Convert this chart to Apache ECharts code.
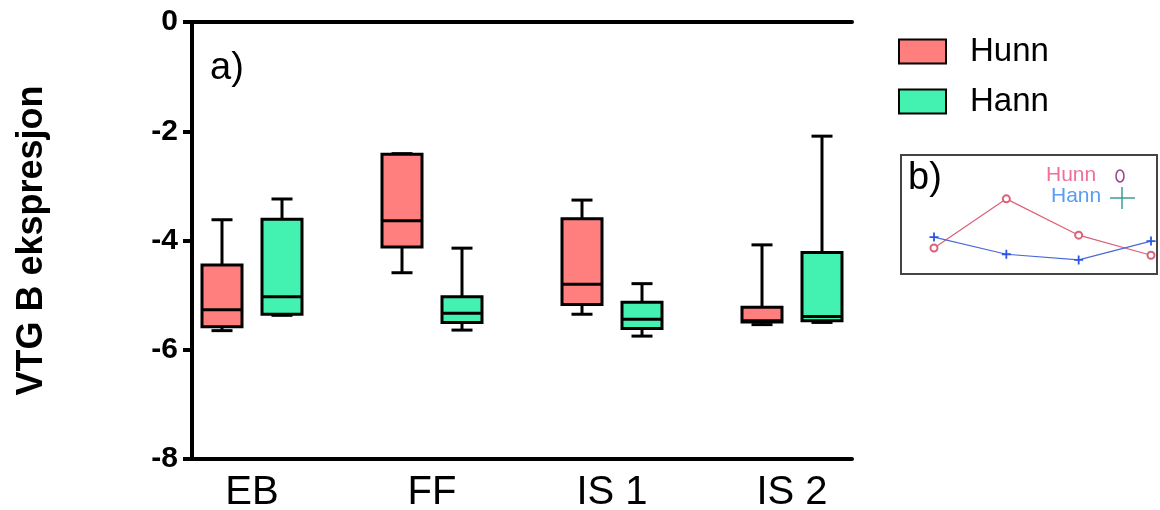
<!DOCTYPE html>
<html>
<head>
<meta charset="utf-8">
<script src="https://cdn.jsdelivr.net/npm/echarts@6/dist/echarts.min.js"></script>
<style>
  html, body { margin: 0; padding: 0; background: #fff; }
  #main { width: 1160px; height: 510px; }
</style>
</head>
<body>
<div id="main"></div>
<script>
// kategorier og boksdata: [min, Q1, median, Q3, maks]
var categories = ['EB', 'FF', 'IS 1', 'IS 2'];
var hunnBox = [
    [-5.65, -5.58, -5.27, -4.45, -3.62],
    [-4.59, -4.12, -3.64, -2.42, -2.41],
    [-5.35, -5.17, -4.80, -3.60, -3.26],
    [-5.54, -5.49, -5.47, -5.22, -4.08]
];
var hannBox = [
    [-5.37, -5.35, -5.03, -3.61, -3.24],
    [-5.64, -5.50, -5.33, -5.03, -4.14],
    [-5.75, -5.61, -5.44, -5.13, -4.79],
    [-5.50, -5.47, -5.39, -4.22, -2.09]
];
// innfelt b): gjennomsnitt per gruppe
var hunnTrend = [-4.97, -3.40, -4.56, -5.20];
var hannTrend = [-4.62, -5.17, -5.35, -4.75];

var FONT = 'Liberation Sans';

// hver gruppe tar 3 plasser på x-aksen: Hunn, Hann, mellomrom
function toRows(boxes, slot) {
    var rows = [];
    for (var i = 0; i < boxes.length; i++) {
        rows.push([i * 3 + slot].concat(boxes[i]));
    }
    return rows;
}

function renderBox(params, api) {
    var x = api.value(0);
    var lo = api.coord([x, api.value(1)]);
    var q1 = api.coord([x, api.value(2)]);
    var md = api.coord([x, api.value(3)]);
    var q3 = api.coord([x, api.value(4)]);
    var hi = api.coord([x, api.value(5)]);
    var unit = api.size([1, 0])[0];
    var half = unit / 3;
    var cap = unit * 0.175;
    var ln = { stroke: '#000', lineWidth: 3 };
    return {
        type: 'group',
        children: [
            { type: 'line', shape: { x1: hi[0], y1: hi[1], x2: q3[0], y2: q3[1] }, style: ln },
            { type: 'line', shape: { x1: lo[0], y1: lo[1], x2: q1[0], y2: q1[1] }, style: ln },
            { type: 'line', shape: { x1: hi[0] - cap, y1: hi[1], x2: hi[0] + cap, y2: hi[1] }, style: ln },
            { type: 'line', shape: { x1: lo[0] - cap, y1: lo[1], x2: lo[0] + cap, y2: lo[1] }, style: ln },
            {
                type: 'rect',
                shape: { x: q3[0] - half, y: q3[1], width: half * 2, height: q1[1] - q3[1] },
                style: { fill: api.visual('color'), stroke: '#000', lineWidth: 3 }
            },
            { type: 'line', shape: { x1: md[0] - half, y1: md[1], x2: md[0] + half, y2: md[1] }, style: ln }
        ]
    };
}

var chart = echarts.init(document.getElementById('main'));

var option = {
    backgroundColor: '#fff',
    animation: false,
    textStyle: { fontFamily: FONT },
    legend: {
        left: 893,
        top: 30,
        orient: 'vertical',
        itemWidth: 47,
        itemHeight: 24,
        itemGap: 17,
        data: [
            { name: 'Hunn', icon: 'rect', itemStyle: { borderColor: '#000', borderWidth: 2 } },
            { name: 'Hann', icon: 'rect', itemStyle: { borderColor: '#000', borderWidth: 2 } }
        ],
        textStyle: { fontSize: 33, color: '#000', fontFamily: FONT, padding: [0, 0, 0, 19] }
    },
    grid: [
        { left: 192, top: 22, width: 660, height: 437, outerBoundsMode: 'none', containLabel: false },
        { left: 934, top: 155, width: 217, height: 119, outerBoundsMode: 'none', containLabel: false }
    ],
    xAxis: [
        {
            type: 'value',
            gridIndex: 0,
            min: 0,
            max: 11,
            interval: 1,
            position: 'bottom',
            splitLine: { show: false },
            axisTick: { show: false },
            axisLine: { onZero: false, lineStyle: { color: '#000', width: 4 } },
            axisLabel: {
                fontSize: 40,
                color: '#000',
                margin: 14,
                showMinLabel: true,
                showMaxLabel: true,
                formatter: function(v) {
                    return (v - 1) % 3 === 0 ? categories[(v - 1) / 3] : '';
                }
            }
        },
        {
            type: 'value',
            gridIndex: 0,
            min: 0,
            max: 11,
            position: 'top',
            splitLine: { show: false },
            axisTick: { show: false },
            axisLabel: { show: false },
            axisLine: { onZero: false, lineStyle: { color: '#000', width: 4 } }
        },
        {
            type: 'category',
            gridIndex: 1,
            data: categories,
            boundaryGap: false,
            show: false
        }
    ],
    yAxis: [
        {
            type: 'value',
            gridIndex: 0,
            min: -8,
            max: 0,
            interval: 2,
            name: 'VTG B ekspresjon',
            nameLocation: 'middle',
            nameGap: 142,
            nameTextStyle: { fontSize: 36, fontWeight: 'bold', color: '#000', fontFamily: FONT },
            splitLine: { show: false },
            axisLine: { show: true, onZero: false, lineStyle: { color: '#000', width: 4 } },
            axisTick: { show: true, length: 9, lineStyle: { color: '#000', width: 4 } },
            axisLabel: { fontSize: 30, fontWeight: 'bold', color: '#000', margin: 14 }
        },
        {
            type: 'value',
            gridIndex: 1,
            min: -5.8,
            max: -2.0,
            show: false
        }
    ],
    series: [
        {
            name: 'Hunn',
            type: 'custom',
            xAxisIndex: 0,
            yAxisIndex: 0,
            itemStyle: { color: '#ff7f7f' },
            renderItem: renderBox,
            encode: { x: 0, y: [1, 2, 3, 4, 5] },
            data: toRows(hunnBox, 0.5)
        },
        {
            name: 'Hann',
            type: 'custom',
            xAxisIndex: 0,
            yAxisIndex: 0,
            itemStyle: { color: '#43f2b0' },
            renderItem: renderBox,
            encode: { x: 0, y: [1, 2, 3, 4, 5] },
            data: toRows(hannBox, 1.5)
        },
        {
            name: 'Hunn b',
            type: 'line',
            xAxisIndex: 2,
            yAxisIndex: 1,
            symbol: 'emptyCircle',
            symbolSize: 7,
            lineStyle: { color: '#dc6078', width: 1.2 },
            itemStyle: { color: '#dc6078', borderWidth: 1 },
            data: hunnTrend
        },
        {
            name: 'Hann b',
            type: 'line',
            xAxisIndex: 2,
            yAxisIndex: 1,
            symbol: 'path://M4,0 L6,0 L6,4 L10,4 L10,6 L6,6 L6,10 L4,10 L4,6 L0,6 L0,4 L4,4 Z',
            symbolSize: 9,
            lineStyle: { color: '#4a6ad8', width: 1.2 },
            itemStyle: { color: '#2a55e8' },
            data: hannTrend
        }
    ],
    graphic: [
        {
            type: 'text',
            left: 210,
            top: 50,
            style: { text: 'a)', fontSize: 38, fill: '#000', fontFamily: FONT }
        },
        {
            type: 'rect',
            shape: { x: 901, y: 155, width: 256, height: 119 },
            style: { fill: 'none', stroke: '#444', lineWidth: 2 },
            z: 10
        },
        {
            type: 'text',
            left: 908,
            top: 160,
            style: { text: 'b)', fontSize: 38, fill: '#000', fontFamily: FONT }
        },
        {
            type: 'text',
            left: 1046,
            top: 165,
            style: { text: 'Hunn', fontSize: 21, fill: '#f0709a', fontFamily: FONT }
        },
        {
            type: 'text',
            left: 1051,
            top: 186,
            style: { text: 'Hann', fontSize: 21, fill: '#5a9cf2', fontFamily: FONT }
        },
        {
            type: 'ellipse',
            shape: { cx: 1120, cy: 176, rx: 4, ry: 6 },
            style: { fill: 'none', stroke: '#9a3d8f', lineWidth: 1.5 }
        },
        {
            type: 'line',
            shape: { x1: 1110, y1: 198, x2: 1135, y2: 198 },
            style: { stroke: '#3a9e9a', lineWidth: 1.5 }
        },
        {
            type: 'line',
            shape: { x1: 1122, y1: 187, x2: 1122, y2: 209 },
            style: { stroke: '#3a9e9a', lineWidth: 1.5 }
        }
    ]
};

chart.setOption(option);
</script>
</body>
</html>
